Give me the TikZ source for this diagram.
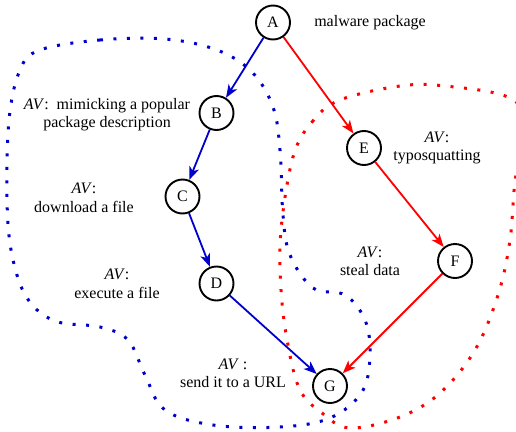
\documentclass[tikz,border=0pt]{standalone}
\usepackage{fontspec}
\setmainfont{Liberation Serif}
\usetikzlibrary{arrows.meta}
\definecolor{myblue}{RGB}{0,0,205}
\definecolor{myred}{RGB}{255,0,0}
\begin{document}
\begin{tikzpicture}[x=1pt,y=-1pt,
  st/.style={circle,draw,line width=1.9pt,minimum size=34pt,inner sep=0pt,font=\fontsize{16}{18}\selectfont},
  lbl/.style={align=center,inner sep=0pt,font=\fontsize{16}{18.5}\selectfont},
  arr/.style={line width=1.8pt,-{Stealth[length=13pt,width=10pt,inset=3.5pt]}},
  dots/.style={line width=3pt,dash pattern=on 3pt off 10.5pt}]
\useasboundingbox (0,0) rectangle (516,431);
\clip (0,0) rectangle (516,431);
% regions
\draw[dots,myblue] plot[smooth cycle,tension=0.6] coordinates {
 (40,50) (100,40) (165,39) (217,50) (252,72) (273,107) (280,150) (283,215)
 (290,255) (313,288) (345,295) (365,320) (370,355) (362,392) (330,418)
 (280,427) (213,425) (165,410) (145,375) (128,340) (100,327) (55,321)
 (27,298) (12,255) (7,200) (9,120) (20,70)};
\draw[dots,myred] plot[smooth cycle,tension=0.6] coordinates {
 (293,157) (312,122) (340,100) (400,86) (445,86) (510,98) (530,130)
 (516,175) (510,240) (498,295) (475,350) (440,393) (400,417) (350,428)
 (322,413) (300,390) (288,345) (281,290) (281,230)};
% nodes
\node[st] (A) at (273,22.5) {A};
\node[st] (B) at (216.5,113) {B};
\node[st] (C) at (182.5,196.5) {C};
\node[st] (D) at (216.5,283.5) {D};
\node[st] (E) at (364,148) {E};
\node[st] (F) at (455,261) {F};
\node[st] (G) at (330,386) {G};
% edges
\draw[arr,myblue] (A) -- (B);
\draw[arr,myblue] (B) -- (C);
\draw[arr,myblue] (C) -- (D);
\draw[arr,myblue] (D) -- (G);
\draw[arr,myred] (A) -- (E);
\draw[arr,myred] (E) -- (F);
\draw[arr,myred] (F) -- (G);
% labels
\node[lbl] (la) at (370,22.5) {malware package};
\node[lbl] (lb) at (107,114.5) {\textit{AV}:\ \ mimicking a popular\\package description};
\node[lbl] (lc) at (84,198) {\textit{AV}:\\download a file};
\node[lbl] (ld) at (117,284) {\textit{AV}:\\execute a file};
\node[lbl] (le) at (437,148) {\textit{AV}:\\typosquatting};
\node[lbl] (lf) at (370,261.5) {\textit{AV}:\\steal data};
\node[lbl] (lg) at (233,373.5) {\textit{AV} :\\send it to a URL};
\end{tikzpicture}
\end{document}
